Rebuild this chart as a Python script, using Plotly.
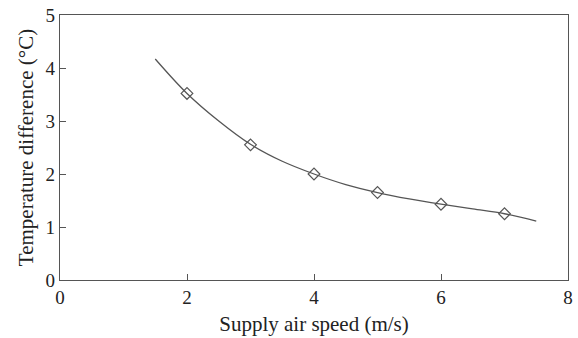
import plotly.graph_objects as go

speed = [2, 3, 4, 5, 6, 7]
temp_diff = [3.52, 2.55, 2.0, 1.65, 1.43, 1.25]

curve_x = [1.5, 2.0, 2.5, 3.0, 3.5, 4.0, 4.5, 5.0, 5.5, 6.0, 6.5, 7.0, 7.5]
curve_y = [4.17, 3.52, 3.0, 2.56, 2.24, 2.0, 1.8, 1.65, 1.53, 1.43, 1.34, 1.25, 1.11]

fig = go.Figure()
fig.add_trace(go.Scatter(x=curve_x, y=curve_y, mode="lines",
                         line=dict(color="#555555", width=1.3, shape="spline"),
                         showlegend=False, hoverinfo="skip"))
fig.add_trace(go.Scatter(x=speed, y=temp_diff, mode="markers",
                         marker=dict(symbol="diamond-open", size=9,
                                     color="#555555", line=dict(width=1.2, color="#555555")),
                         showlegend=False))

font = dict(family="Liberation Serif, Times New Roman, serif", color="#222222")
fig.update_layout(
    width=578, height=338,
    margin=dict(l=60, r=5, t=13, b=58),
    plot_bgcolor="white", paper_bgcolor="white",
    font=dict(size=19, **font),
    xaxis=dict(range=[0, 8], tickvals=[0, 2, 4, 6, 8], ticks="inside", ticklen=6,
               tickcolor="#555555", showline=True, linecolor="#555555", linewidth=1.3,
               mirror=True, showgrid=False, zeroline=False,
               title=dict(text="Supply air speed (m/s)", font=dict(size=21), standoff=9),
               tickfont=dict(size=19)),
    yaxis=dict(range=[0, 5], tickvals=[0, 1, 2, 3, 4, 5], ticks="inside", ticklen=6,
               tickcolor="#555555", showline=True, linecolor="#555555", linewidth=1.3,
               mirror=True, showgrid=False, zeroline=False,
               title=dict(text="Temperature difference (°C)", font=dict(size=21), standoff=6),
               tickfont=dict(size=19)),
)
fig.write_html("out.html")
